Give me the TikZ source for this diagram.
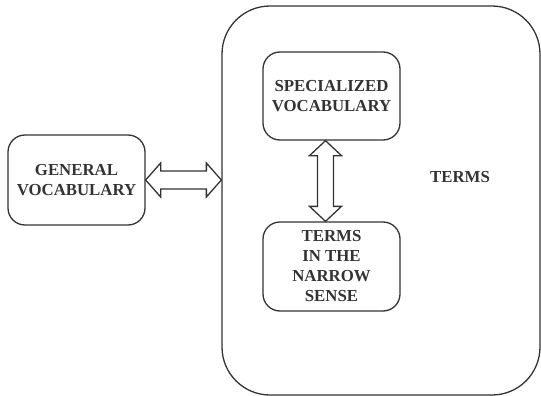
\documentclass[tikz,border=0pt]{standalone}
\usepackage{fontspec}
\setmainfont{Liberation Serif}
\usetikzlibrary{calc}

\tikzset{
	box/.style={draw=black!80, line width=1.3pt, rounded corners=17pt, align=center, inner sep=0pt},
	lbl/.style={font=\bfseries\fontsize{16.8}{20}\selectfont, text=black!80},
	arr/.style={draw=black!80, line width=1.3pt, line join=miter, fill=white}
}

\begin{document}
\begin{tikzpicture}[x=1pt,y=1pt,yscale=-1,xscale=1]

	\useasboundingbox (0,0) rectangle (541,396);

	\node [box, rounded corners=48pt, minimum width=318pt, minimum height=389pt] (termsbox) at (381,200.5) {};
	\node [box, lbl, minimum width=137pt, minimum height=90pt] (gen) at (76.5,180) {GENERAL\\VOCABULARY};
	\node [box, lbl, minimum width=137pt, minimum height=88pt] (spec) at (331.5,96) {SPECIALIZED\\VOCABULARY};
	\node [box, lbl, minimum width=137pt, minimum height=89pt] (narrow) at (331.5,266.5) {TERMS\\IN THE\\NARROW\\SENSE};
	\node [lbl] (termslbl) at (460,177) {TERMS};

	% general <-> terms
	\draw [arr] (gen.east) -- ++(15,-17) -- ++(0,8) -- ($(termsbox.west|-gen.east)+(-15,-9)$) -- ++(0,-8) -- (termsbox.west|-gen.east) -- ++(-15,17) -- ++(0,-8) -- ($(gen.east)+(15,9)$) -- ++(0,8) -- cycle;
	% specialized <-> narrow
	\coordinate (vtop) at ($(spec.south)+(-6,0)$);
	\coordinate (vbot) at ($(narrow.north)+(-6,0)$);
	\draw [arr] (vtop) -- ++(16,15) -- ++(-8,0) -- ($(vbot)+(8,-15)$) -- ++(8,0) -- (vbot) -- ++(-16,-15) -- ++(8,0) -- ($(vtop)+(-8,15)$) -- ++(-8,0) -- cycle;

\end{tikzpicture}
\end{document}
